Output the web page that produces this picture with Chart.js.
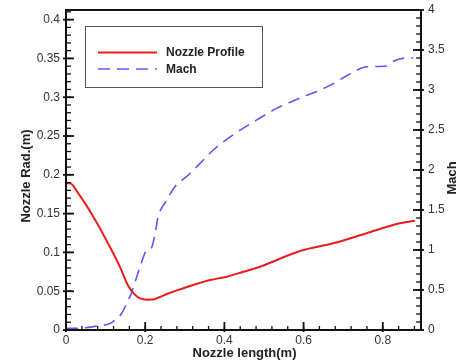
<!DOCTYPE html>
<html>
<head>
<meta charset="utf-8">
<script src="https://cdn.jsdelivr.net/npm/chart.js@4/dist/chart.umd.min.js"></script>
<style>
  html, body { margin: 0; padding: 0; background: #fff; }
  #wrap { width: 461px; height: 362px; }
</style>
</head>
<body>
<div id="wrap"><canvas id="c" width="461" height="362"></canvas></div>
<script>
// Nozzle wall radius along the axis (m)
const profileLength = [0, 0.010, 0.031, 0.069, 0.111, 0.136, 0.157, 0.172, 0.186, 0.204, 0.220, 0.237,
  0.258, 0.280, 0.321, 0.364, 0.406, 0.448, 0.490, 0.591, 0.675, 0.759, 0.843, 0.881];
const profileRadius = [0.189, 0.189, 0.176, 0.146, 0.107, 0.0816, 0.0570, 0.0465, 0.0410, 0.0390, 0.0392, 0.0425,
  0.047, 0.051, 0.058, 0.0644, 0.0687, 0.0751, 0.0816, 0.1018, 0.1117, 0.1246, 0.1375, 0.1409];

// Mach number along the axis
const machLength = [0, 0.03, 0.052, 0.078, 0.111, 0.124, 0.141, 0.157, 0.162, 0.187, 0.204, 0.216,
  0.225, 0.233, 0.254, 0.275, 0.305, 0.338, 0.372, 0.422, 0.473, 0.532, 0.591, 0.633, 0.675,
  0.717, 0.760, 0.810, 0.823, 0.860, 0.877];
const machValues = [0.02, 0.02, 0.03, 0.05, 0.08, 0.125, 0.21, 0.375, 0.42, 0.79, 1.0, 1.03,
  1.21, 1.42, 1.62, 1.79, 1.92, 2.08, 2.25, 2.44, 2.6, 2.77, 2.9, 2.98, 3.08,
  3.2, 3.29, 3.30, 3.35, 3.40, 3.40];

// Axis tick labels
const lengthTicks = [0, 0.2, 0.4, 0.6, 0.8];
const radiusTicks = [0, 0.05, 0.1, 0.15, 0.2, 0.25, 0.3, 0.35, 0.4];
const machTicks = [0, 0.5, 1, 1.5, 2, 2.5, 3, 3.5, 4];

const seriesNames = ['Nozzle Profile', 'Mach'];
const axisTitles = { x: 'Nozzle length(m)', left: 'Nozzle Rad.(m)', right: 'Mach' };

const FONT = 'Liberation Sans, Arial, sans-serif';
const toPoints = (xs, ys) => xs.map((x, i) => ({ x: x, y: ys[i] }));

// Frame, inward tick marks, axis titles and the boxed legend
const framePlugin = {
  id: 'frame',
  afterDraw(chart) {
    const ctx = chart.ctx;
    const a = chart.chartArea;
    const sx = chart.scales.x, sl = chart.scales.yRad, sr = chart.scales.yMach;
    ctx.save();
    ctx.strokeStyle = '#111';
    ctx.lineWidth = 1.3;
    const line = (x1, y1, x2, y2) => { ctx.beginPath(); ctx.moveTo(x1, y1); ctx.lineTo(x2, y2); ctx.stroke(); };
    const range = (lo, hi, step) => { const r = []; for (let v = lo; v <= hi + 1e-9; v += step) r.push(+v.toFixed(4)); return r; };

    // minor ticks
    range(0, sx.max, 0.04).forEach(v => { const p = sx.getPixelForValue(v); line(p, a.bottom, p, a.bottom - 4); });
    range(0, 0.41, 0.01).forEach(v => { const p = sl.getPixelForValue(v); line(a.left, p, a.left + 5, p); });
    range(0, 4, 0.1).forEach(v => { const p = sr.getPixelForValue(v); line(a.right, p, a.right - 5, p); });
    // major ticks
    ctx.lineWidth = 1.8;
    lengthTicks.forEach(v => { const p = sx.getPixelForValue(v); line(p, a.bottom + 2, p, a.bottom - 8); });
    radiusTicks.forEach(v => { const p = sl.getPixelForValue(v); line(a.left - 3, p, a.left + 8, p); });
    machTicks.forEach(v => { const p = sr.getPixelForValue(v); line(a.right + 3, p, a.right - 8, p); });

    // frame
    ctx.lineWidth = 2;
    ctx.strokeRect(a.left, a.top, a.right - a.left, a.bottom - a.top);

    // axis titles
    ctx.fillStyle = '#222';
    ctx.font = 'bold 13px ' + FONT;
    ctx.textAlign = 'center';
    ctx.textBaseline = 'middle';
    ctx.fillText(axisTitles.x, (a.left + a.right) / 2 + 1, 353);
    ctx.save(); ctx.translate(26, 176); ctx.rotate(-Math.PI / 2); ctx.fillText(axisTitles.left, 0, 0); ctx.restore();
    ctx.save(); ctx.translate(452, 178); ctx.rotate(-Math.PI / 2); ctx.fillText(axisTitles.right, 0, 0); ctx.restore();

    // legend box
    ctx.lineWidth = 1;
    ctx.strokeStyle = '#555';
    ctx.fillStyle = '#fff';
    ctx.fillRect(85.5, 26.5, 177, 61);
    ctx.strokeRect(85.5, 26.5, 177, 61);
    const rows = [52.5, 69];
    chart.data.datasets.forEach((ds, i) => {
      ctx.strokeStyle = ds.borderColor;
      ctx.lineWidth = ds.borderWidth;
      ctx.setLineDash(ds.borderDash || []);
      line(98, rows[i], 157, rows[i]);
      ctx.setLineDash([]);
      ctx.fillStyle = '#222';
      ctx.font = 'bold 12px ' + FONT;
      ctx.textAlign = 'left';
      ctx.fillText(ds.label, 166, rows[i] + 0.5);
    });
    ctx.restore();
  }
};

const tickFont = { family: FONT, size: 12 };

new Chart(document.getElementById('c'), {
  type: 'line',
  data: {
    datasets: [
      {
        label: seriesNames[0],
        data: toPoints(profileLength, profileRadius),
        yAxisID: 'yRad',
        borderColor: '#e81c1c',
        borderWidth: 2,
        pointRadius: 0,
        cubicInterpolationMode: 'monotone',
        fill: false
      },
      {
        label: seriesNames[1],
        data: toPoints(machLength, machValues),
        yAxisID: 'yMach',
        borderColor: '#5a5af8',
        borderWidth: 1.6,
        borderDash: [12, 7],
        pointRadius: 0,
        cubicInterpolationMode: 'monotone',
        fill: false
      }
    ]
  },
  options: {
    responsive: false,
    animation: false,
    layout: { padding: { top: 10, left: 0, right: 0, bottom: 0 } },
    plugins: { legend: { display: false }, tooltip: { enabled: false } },
    scales: {
      x: {
        type: 'linear',
        min: 0,
        max: 0.8965,
        grid: { display: false },
        border: { display: false },
        afterBuildTicks: s => { s.ticks = lengthTicks.map(v => ({ value: v })); },
        afterFit: s => { s.height = 32; },
        ticks: { font: tickFont, color: '#333', padding: -5, maxRotation: 0, callback: v => String(v) }
      },
      yRad: {
        type: 'linear',
        position: 'left',
        min: 0,
        max: 0.4124,
        grid: { display: false },
        border: { display: false },
        afterBuildTicks: s => { s.ticks = radiusTicks.map(v => ({ value: v })); },
        afterFit: s => { s.width = 66; },
        ticks: { font: tickFont, color: '#333', padding: -2, callback: v => String(v) }
      },
      yMach: {
        type: 'linear',
        position: 'right',
        min: 0,
        max: 4,
        grid: { display: false },
        border: { display: false },
        afterBuildTicks: s => { s.ticks = machTicks.map(v => ({ value: v })); },
        afterFit: s => { s.width = 40; },
        ticks: { font: tickFont, color: '#333', padding: -1, callback: v => String(v) }
      }
    }
  },
  plugins: [framePlugin]
});
</script>
</body>
</html>
